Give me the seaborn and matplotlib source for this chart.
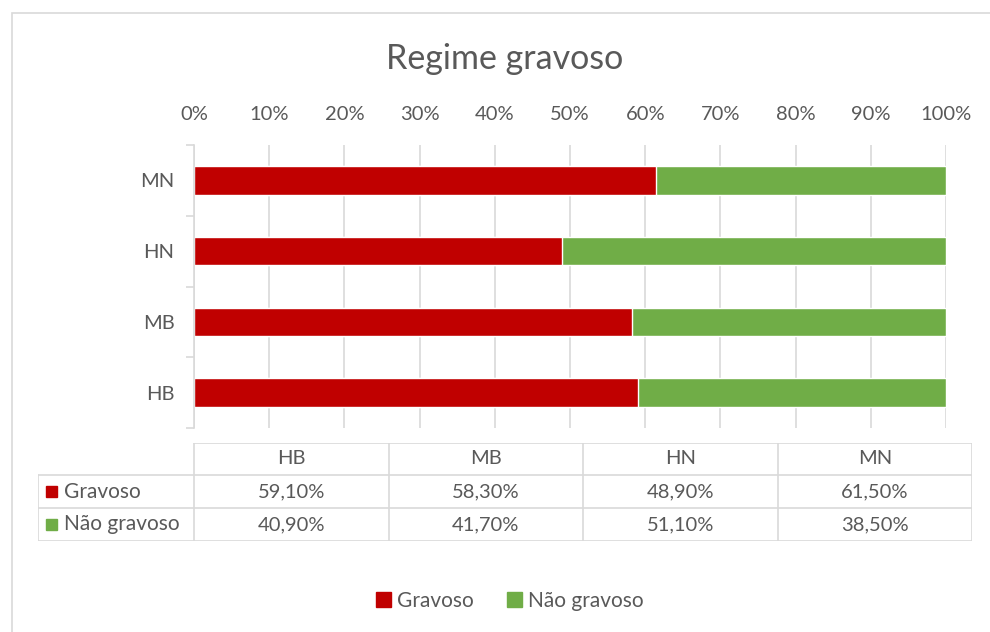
import numpy as np
import pandas as pd
import matplotlib
matplotlib.use('Agg')
import matplotlib.pyplot as plt
from matplotlib.patches import Rectangle, Patch
import seaborn as sns

# Dados (ordem da tabela)
grupos = ['HB', 'MB', 'HN', 'MN']
gravoso = [59.1, 58.3, 48.9, 61.5]
nao_gravoso = [40.9, 41.7, 51.1, 38.5]
series = ['Gravoso', 'Não gravoso']
cores = ['#C00000', '#70AD47']
ticks_x = [0, 10, 20, 30, 40, 50, 60, 70, 80, 90, 100]

sns.set_theme(style='white')
plt.rcParams['font.family'] = ['Lato', 'DejaVu Sans']
cinza = '#595959'
linha = '#D9D9D9'

df = pd.DataFrame({'grupo': grupos, 'Gravoso': gravoso, 'Não gravoso': nao_gravoso})
df['total'] = df['Gravoso'] + df['Não gravoso']
ordem = grupos[::-1]

fig = plt.figure(figsize=(9.9, 6.32), dpi=100)
fig.add_artist(Rectangle((12 / 990, -0.05), 1.2, 1 - 13 / 632 + 0.05,
                         transform=fig.transFigure, fill=False, edgecolor=linha, lw=1.2))

ax = fig.add_axes([194 / 990, 1 - 428 / 632, 752 / 990, 283 / 632])
sns.barplot(data=df, y='grupo', x='total', order=ordem, color=cores[1],
            width=0.4, ax=ax, saturation=1)
sns.barplot(data=df, y='grupo', x='Gravoso', order=ordem, color=cores[0],
            width=0.4, ax=ax, saturation=1)

ax.set_xlim(0, 100)
ax.set_ylim(3.5, -0.5)
ax.set_xticks(ticks_x)
ax.set_xticklabels([f'{t}%' for t in ticks_x])
ax.xaxis.tick_top()
ax.tick_params(axis='x', length=0, labelsize=14.5, colors=cinza, pad=16)
ax.tick_params(axis='y', which='major', length=0, labelsize=14.5, colors=cinza, pad=14)
ax.set_yticks(np.arange(-0.5, 4, 1), minor=True)
ax.tick_params(axis='y', which='minor', length=6, color=linha, width=1.2, left=True)
ax.set_xlabel('')
ax.set_ylabel('')
ax.grid(axis='x', color=linha, lw=1.2)
ax.set_axisbelow(True)
for s in ['top', 'right', 'bottom']:
    ax.spines[s].set_visible(False)
ax.spines['left'].set_color(linha)
ax.spines['left'].set_linewidth(1.2)

fig.text(505 / 990, 1 - 59 / 632, 'Regime gravoso', ha='center', va='center',
         fontsize=24.5, color=cinza)

# Tabela de dados
tab = fig.add_axes([38 / 990, 1 - 541 / 632, 934 / 990, 98 / 632])
tab.set_xlim(0, 934)
tab.set_ylim(98, 0)
tab.axis('off')
col_l = 156
col_w = (934 - col_l) / 4
ys = [0, 32, 65, 98]
tab.plot([col_l, 934], [0, 0], color=linha, lw=1.2)
for y in ys[1:]:
    tab.plot([0, 934], [y, y], color=linha, lw=1.2)
tab.plot([0, 0], [32, 98], color=linha, lw=1.2)
for i in range(5):
    x = col_l + i * col_w
    tab.plot([x, x], [0, 98], color=linha, lw=1.2)
for i, g in enumerate(grupos):
    cx = col_l + (i + 0.5) * col_w
    tab.text(cx, 16, g, ha='center', va='center', fontsize=14.5, color=cinza)
    for j, vals in enumerate([gravoso, nao_gravoso]):
        txt = f'{vals[i]:.2f}%'.replace('.', ',')
        tab.text(cx, (ys[j + 1] + ys[j + 2]) / 2, txt, ha='center', va='center',
                 fontsize=14.5, color=cinza)
for j, nome in enumerate(series):
    yc = (ys[j + 1] + ys[j + 2]) / 2
    tab.add_patch(Rectangle((8, yc - 5.5), 11, 11, color=cores[j]))
    tab.text(26, yc, nome, ha='left', va='center', fontsize=15, color=cinza)

handles = [Patch(color=c, label=n) for c, n in zip(cores, series)]
fig.legend(handles=handles, loc='center', bbox_to_anchor=(510 / 990, 1 - 601 / 632),
           ncol=2, frameon=False, fontsize=15, handlelength=0.7, handleheight=0.7,
           handletextpad=0.3, columnspacing=1.6, labelcolor=cinza)

fig.savefig('out.png', dpi=100, facecolor='white')
